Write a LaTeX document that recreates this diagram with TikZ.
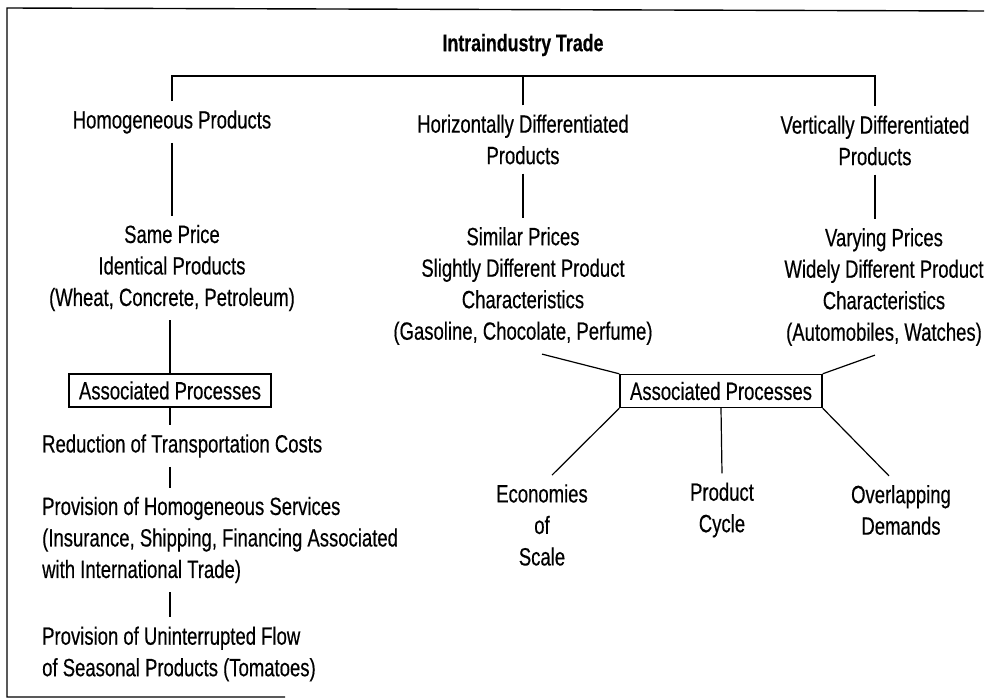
\documentclass[tikz,border=0pt]{standalone}
\usepackage{fontspec}
\setmainfont[FakeStretch=0.74,FakeBold=0.4]{Liberation Sans}

\begin{document}
\begin{tikzpicture}[x=1pt,y=-1pt,
  txt/.style={align=center,inner xsep=0pt,inner ysep=9pt,font=\fontsize{25}{31.5}\selectfont},
  ltxt/.style={txt,align=left,anchor=west},
  procbox/.style={draw,line width=1.4pt,inner xsep=10pt,inner ysep=0pt,minimum height=33pt,font=\fontsize{25}{31.5}\selectfont},
  link/.style={line width=1.2pt}]
\useasboundingbox (0,0) rectangle (994,699);
% frame
\draw[line width=1.4pt] (984,11) -- (7,8) -- (7,697) -- (285,697);
\node[font=\bfseries\fontsize{24}{26}\selectfont] (title) at (523,45) {Intraindustry Trade};
% three kinds of products
\node[txt] (homog) at (172,122) {Homogeneous Products};
\node[txt] (horiz) at (523,139.5) {Horizontally Differentiated\\Products};
\node[txt] (vert) at (875,140.5) {Vertically Differentiated\\Products};
\coordinate (bar) at (0,76);
\draw[link] (homog.north) -- (homog.north |- bar) -- (vert.north |- bar) -- (vert.north);
\draw[link] (horiz.north) -- (horiz.north |- bar);
% prices
\node[txt] (same) at (172,268) {Same Price\\Identical Products\\(Wheat, Concrete, Petroleum)};
\node[txt] (similar) at (523,286) {Similar Prices\\Slightly Different Product\\Characteristics\\(Gasoline, Chocolate, Perfume)};
\node[txt] (varying) at (884,287) {Varying Prices\\Widely Different Product\\Characteristics\\(Automobiles, Watches)};
\draw[link] (homog.south) -- (homog.south |- same.north);
\draw[link] (horiz.south) -- (horiz.south |- similar.north);
\draw[link] (vert.south) -- (vert.south |- varying.north);
% left processes
\node[procbox] (lbox) at (170,390.5) {Associated Processes};
\node[ltxt] (reduction) at (42,446) {Reduction of Transportation Costs};
\node[ltxt] (services) at (42,540) {Provision of Homogeneous Services\\(Insurance, Shipping, Financing Associated\\with International Trade)};
\node[ltxt] (seasonal) at (42,654) {Provision of Uninterrupted Flow\\of Seasonal Products (Tomatoes)};
\draw[link] (same.south -| lbox) -- (lbox.north);
\draw[link] (lbox.south) -- (lbox.south |- reduction.north);
\draw[link] (lbox.south |- reduction.south) -- (lbox.south |- services.north);
\draw[link] (lbox.south |- services.south) -- (lbox.south |- seasonal.north);
% right processes
\node[procbox] (rbox) at (721,391) {Associated Processes};
\node[txt] (econ) at (542,525) {Economies\\of\\Scale};
\node[txt] (cycle) at (722,510) {Product\\Cycle};
\node[txt] (overlap) at (901,510) {Overlapping\\Demands};
\draw[link] (similar.south -| econ) -- (rbox.north west);
\draw[link] (varying.south -| vert) -- (rbox.north east);
\draw[link] (rbox.south west) -- ([xshift=10pt]econ.north);
\draw[link] (rbox.south) -- (cycle.north);
\draw[link] (rbox.south east) -- ([xshift=-12pt]overlap.north);
\end{tikzpicture}
\end{document}
